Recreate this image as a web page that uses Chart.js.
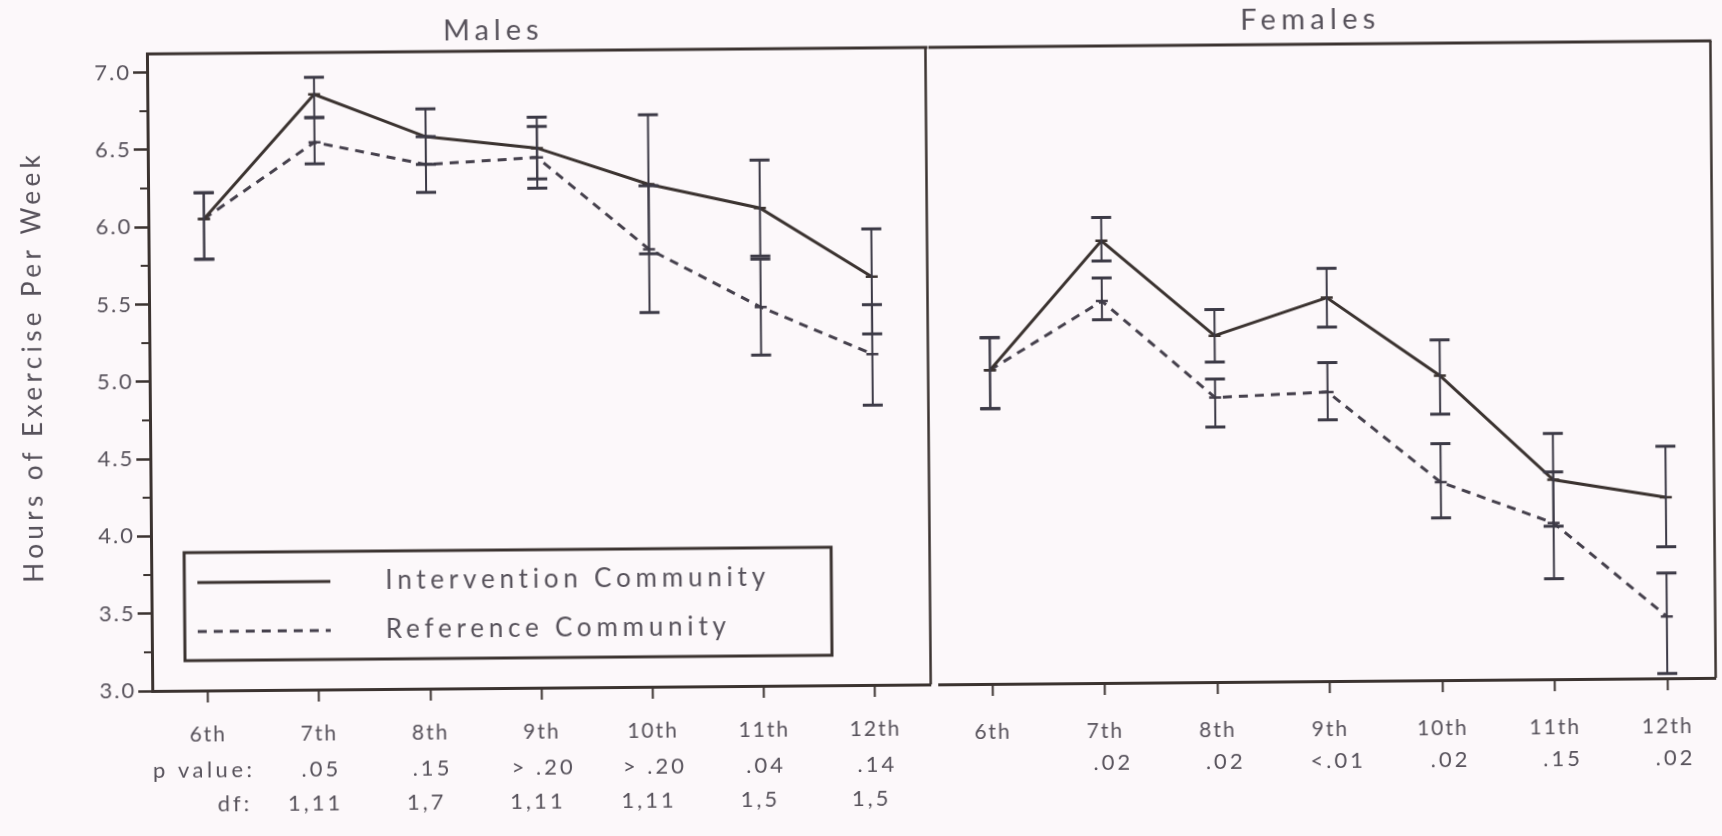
<!DOCTYPE html>
<html lang="en">
<head>
<meta charset="utf-8">
<title>Hours of Exercise Per Week</title>
<script src="https://cdn.jsdelivr.net/npm/chart.js@4.4.1/dist/chart.umd.min.js"></script>
<style>
  html, body { margin: 0; padding: 0; width: 1722px; height: 836px; overflow: hidden; background: #fcf8fa; }
  #figure { position: absolute; left: 0; top: 0; width: 1722px; height: 836px;
            transform: rotate(-0.48deg); transform-origin: 861px 418px; }
  #figure canvas { position: absolute; top: 0; }
  #males { left: 0; }
  #females { left: 929px; }
</style>
</head>
<body>
<div id="figure">
  <canvas id="males" width="937" height="836"></canvas>
  <canvas id="females" width="793" height="836"></canvas>
</div>
<script>
// ---- data ----
const grades = ['6th', '7th', '8th', '9th', '10th', '11th', '12th'];
const legendLabels = ['Intervention Community', 'Reference Community'];
const panelTitles = ['Males', 'Females'];
const yAxisTitle = 'Hours of Exercise Per Week';

const yMajor = [3.0, 3.5, 4.0, 4.5, 5.0, 5.5, 6.0, 6.5, 7.0];
const yLabels = ['3.0', '3.5', '4.0', '4.5', '5.0', '5.5', '6.0', '6.5', '7.0'];
const yMinor = [3.25, 3.75, 4.25, 4.75, 5.25, 5.75, 6.25, 6.75];

// Males
const maleIntervention     = [6.05, 6.85, 6.57, 6.49, 6.25, 6.09, 5.64];
const maleInterventionLow  = [5.79, 6.70, 6.39, 6.29, 5.80, 5.78, 5.27];
const maleInterventionHigh = [6.22, 6.96, 6.75, 6.69, 6.70, 6.40, 5.95];
const maleReference        = [6.05, 6.54, 6.39, 6.43, 5.83, 5.45, 5.14];
const maleReferenceLow     = [5.79, 6.40, 6.21, 6.23, 5.42, 5.14, 4.81];
const maleReferenceHigh    = [6.22, 6.70, 6.57, 6.63, 6.24, 5.76, 5.46];
const maleP  = ['', '.05', '.15', '> .20', '> .20', '.04', '.14'];
const maleDf = ['', '1,11', '1,7', '1,11', '1,11', '1,5', '1,5'];

// Females
const femaleIntervention     = [5.03, 5.86, 5.24, 5.48, 4.97, 4.29, 4.17];
const femaleInterventionLow  = [4.78, 5.73, 5.07, 5.29, 4.72, 3.99, 3.85];
const femaleInterventionHigh = [5.24, 6.01, 5.41, 5.67, 5.20, 4.59, 4.50];
const femaleReference        = [5.03, 5.47, 4.84, 4.87, 4.28, 4.01, 3.40];
const femaleReferenceLow     = [4.78, 5.35, 4.65, 4.69, 4.05, 3.65, 3.03];
const femaleReferenceHigh    = [5.24, 5.62, 4.96, 5.06, 4.53, 4.34, 3.68];
const femaleP = ['', '.02', '.02', '<.01', '.02', '.15', '.02'];

// ---- styling ----
const INK = '#3b3330';
const REF_INK = '#45404c';
const BAR_INK = '#3c3a46';
const TEXT_INK = '#57525b';
const FONT = 'Lato, "Open Sans", sans-serif';

function textAt(ctx, str, x, y, size, spacing, align, color) {
  ctx.save();
  ctx.font = size + 'px ' + FONT;
  ctx.letterSpacing = spacing + 'px';
  ctx.fillStyle = color || TEXT_INK;
  ctx.textBaseline = 'middle';
  let dx = 0;
  if (align === 'center') { ctx.textAlign = 'center'; dx = spacing / 2; }
  else if (align === 'right') { ctx.textAlign = 'right'; dx = spacing; }
  else ctx.textAlign = 'left';
  ctx.fillText(str, x + dx, y);
  ctx.restore();
}

// tick label spacing shared by the axis labels
const spacingPlugin = {
  id: 'spacing',
  beforeUpdate(chart) { chart.ctx.letterSpacing = '2px'; },
  beforeDraw(chart) { chart.ctx.letterSpacing = '2px'; }
};

// vertical error bars with caps, read from each dataset's errLow / errHigh
const errorBarPlugin = {
  id: 'errorBars',
  afterDatasetsDraw(chart) {
    const { ctx, scales: { x, y } } = chart;
    ctx.save();
    ctx.strokeStyle = BAR_INK;
    chart.data.datasets.forEach(ds => {
      ds.data.forEach((pt, i) => {
        const px = x.getPixelForValue(pt.x);
        const yl = y.getPixelForValue(ds.errLow[i]);
        const yh = y.getPixelForValue(ds.errHigh[i]);
        ctx.lineWidth = 2;
        ctx.beginPath(); ctx.moveTo(px, yl); ctx.lineTo(px, yh); ctx.stroke();
        ctx.lineWidth = 3;
        ctx.beginPath();
        ctx.moveTo(px - 10, yl); ctx.lineTo(px + 10, yl);
        ctx.moveTo(px - 10, yh); ctx.lineTo(px + 10, yh);
        ctx.stroke();
      });
    });
    ctx.restore();
  }
};

function dataset(label, values, low, high, color, dash) {
  return {
    label,
    data: values.map((v, i) => ({ x: i, y: v })),
    errLow: low,
    errHigh: high,
    borderColor: color,
    borderWidth: 3,
    borderDash: dash,
    pointStyle: 'line',
    pointRadius: 6,
    pointBorderWidth: 2.5,
    pointBorderColor: color,
    pointBackgroundColor: color,
    fill: false,
    tension: 0
  };
}

function panelConfig(p) {
  return {
    type: 'line',
    data: {
      datasets: [
        dataset(legendLabels[0], p.inter, p.interLow, p.interHigh, INK, []),
        dataset(legendLabels[1], p.ref, p.refLow, p.refHigh, REF_INK, [9, 7])
      ]
    },
    options: {
      responsive: false,
      animation: false,
      devicePixelRatio: 1,
      layout: { padding: { left: p.padLeft, right: p.padRight, top: 48, bottom: 0 } },
      plugins: { legend: { display: false }, tooltip: { enabled: false }, title: { display: false } },
      scales: {
        x: {
          type: 'linear',
          min: p.xMin,
          max: p.xMax,
          afterBuildTicks: s => { s.ticks = grades.map((g, i) => ({ value: i })); },
          afterFit: s => { s.height = 151; },
          border: { display: true, color: INK, width: 3 },
          grid: { display: true, drawOnChartArea: false, drawTicks: true, tickLength: 12, tickWidth: 2, tickColor: INK },
          ticks: { autoSkip: false, maxRotation: 0, padding: p.labelPad, color: TEXT_INK,
                   font: { family: FONT, size: 21 }, callback: v => grades[v] }
        },
        y: {
          min: 3,
          max: 7.12,
          display: p.showY,
          afterBuildTicks: s => { s.ticks = yMajor.map(v => ({ value: v })); },
          afterFit: s => { s.width = p.showY ? 150 : 0; },
          border: { display: true, color: INK, width: 3 },
          grid: { display: true, drawOnChartArea: false, drawTicks: true, tickLength: 14, tickWidth: 2.5, tickColor: INK },
          ticks: { padding: 2, color: TEXT_INK, font: { family: FONT, size: 22 },
                   callback: (v, i) => yLabels[i] }
        }
      }
    },
    plugins: [spacingPlugin, errorBarPlugin, p.decor]
  };
}

// frame, titles, legend and test statistics for the males panel
const maleDecor = {
  id: 'maleDecor',
  afterDraw(chart) {
    const { ctx, chartArea: a, scales: { x, y } } = chart;
    ctx.save();
    ctx.strokeStyle = INK;
    ctx.lineWidth = 3;
    ctx.beginPath(); ctx.moveTo(a.left - 1, a.top); ctx.lineTo(a.right + 2, a.top); ctx.stroke();
    ctx.lineWidth = 2.5;
    ctx.beginPath(); ctx.moveTo(a.right, a.top); ctx.lineTo(a.right, a.bottom); ctx.stroke();
    // minor ticks on the value axis
    ctx.lineWidth = 2;
    yMinor.forEach(v => {
      const py = y.getPixelForValue(v);
      ctx.beginPath(); ctx.moveTo(a.left - 8, py); ctx.lineTo(a.left, py); ctx.stroke();
    });
    // legend box
    const lb = { l: 183, t: 547, r: 830, b: 655 };
    ctx.lineWidth = 3;
    ctx.strokeRect(lb.l, lb.t, lb.r - lb.l, lb.b - lb.t);
    const ds = chart.data.datasets;
    const rows = [577, 626];
    ds.forEach((d, k) => {
      ctx.save();
      ctx.strokeStyle = d.borderColor;
      ctx.lineWidth = 3;
      ctx.setLineDash(d.borderDash);
      ctx.beginPath(); ctx.moveTo(196, rows[k]); ctx.lineTo(329, rows[k]); ctx.stroke();
      ctx.restore();
      textAt(ctx, d.label, 384, rows[k], 26, 4.8, 'left');
    });
    ctx.restore();

    textAt(ctx, panelTitles[0], 494, 28, 29, 5, 'center');
    ctx.save();
    ctx.translate(34, 362);
    ctx.rotate(-Math.PI / 2);
    textAt(ctx, yAxisTitle, 0, 0, 26, 4.4, 'center');
    ctx.restore();

    textAt(ctx, 'p value:', 249, 765, 22, 3.5, 'right');
    textAt(ctx, 'df:', 246, 799, 22, 3, 'right');
    maleP.forEach((s, i) => { if (s) textAt(ctx, s, x.getPixelForValue(i), 765, 22, 3, 'center'); });
    maleDf.forEach((s, i) => { if (s) textAt(ctx, s, x.getPixelForValue(i) - 6, 799, 22, 3, 'center'); });
  }
};

const femaleDecor = {
  id: 'femaleDecor',
  afterDraw(chart) {
    const { ctx, chartArea: a, scales: { x } } = chart;
    ctx.save();
    ctx.strokeStyle = INK;
    ctx.lineWidth = 3;
    ctx.beginPath(); ctx.moveTo(a.left - 6, a.top); ctx.lineTo(a.right + 1, a.top); ctx.stroke();
    ctx.lineWidth = 2.5;
    ctx.beginPath(); ctx.moveTo(a.right, a.top); ctx.lineTo(a.right, a.bottom); ctx.stroke();
    ctx.restore();
    textAt(ctx, panelTitles[1], 382, 24, 29, 5.3, 'center');
    femaleP.forEach((s, i) => { if (s) textAt(ctx, s, x.getPixelForValue(i) + 6, 765, 22, 3, 'center'); });
  }
};

new Chart(document.getElementById('males'), panelConfig({
  inter: maleIntervention, interLow: maleInterventionLow, interHigh: maleInterventionHigh,
  ref: maleReference, refLow: maleReferenceLow, refHigh: maleReferenceHigh,
  padLeft: 0, padRight: 4, xMin: -0.5, xMax: 6.5, labelPad: 20, showY: true, decor: maleDecor
}));

new Chart(document.getElementById('females'), panelConfig({
  inter: femaleIntervention, interLow: femaleInterventionLow, interHigh: femaleInterventionHigh,
  ref: femaleReference, refLow: femaleReferenceLow, refHigh: femaleReferenceHigh,
  padLeft: 4, padRight: 3, xMin: -0.47, xMax: 6.43, labelPad: 24, showY: false, decor: femaleDecor
}));
</script>
</body>
</html>
